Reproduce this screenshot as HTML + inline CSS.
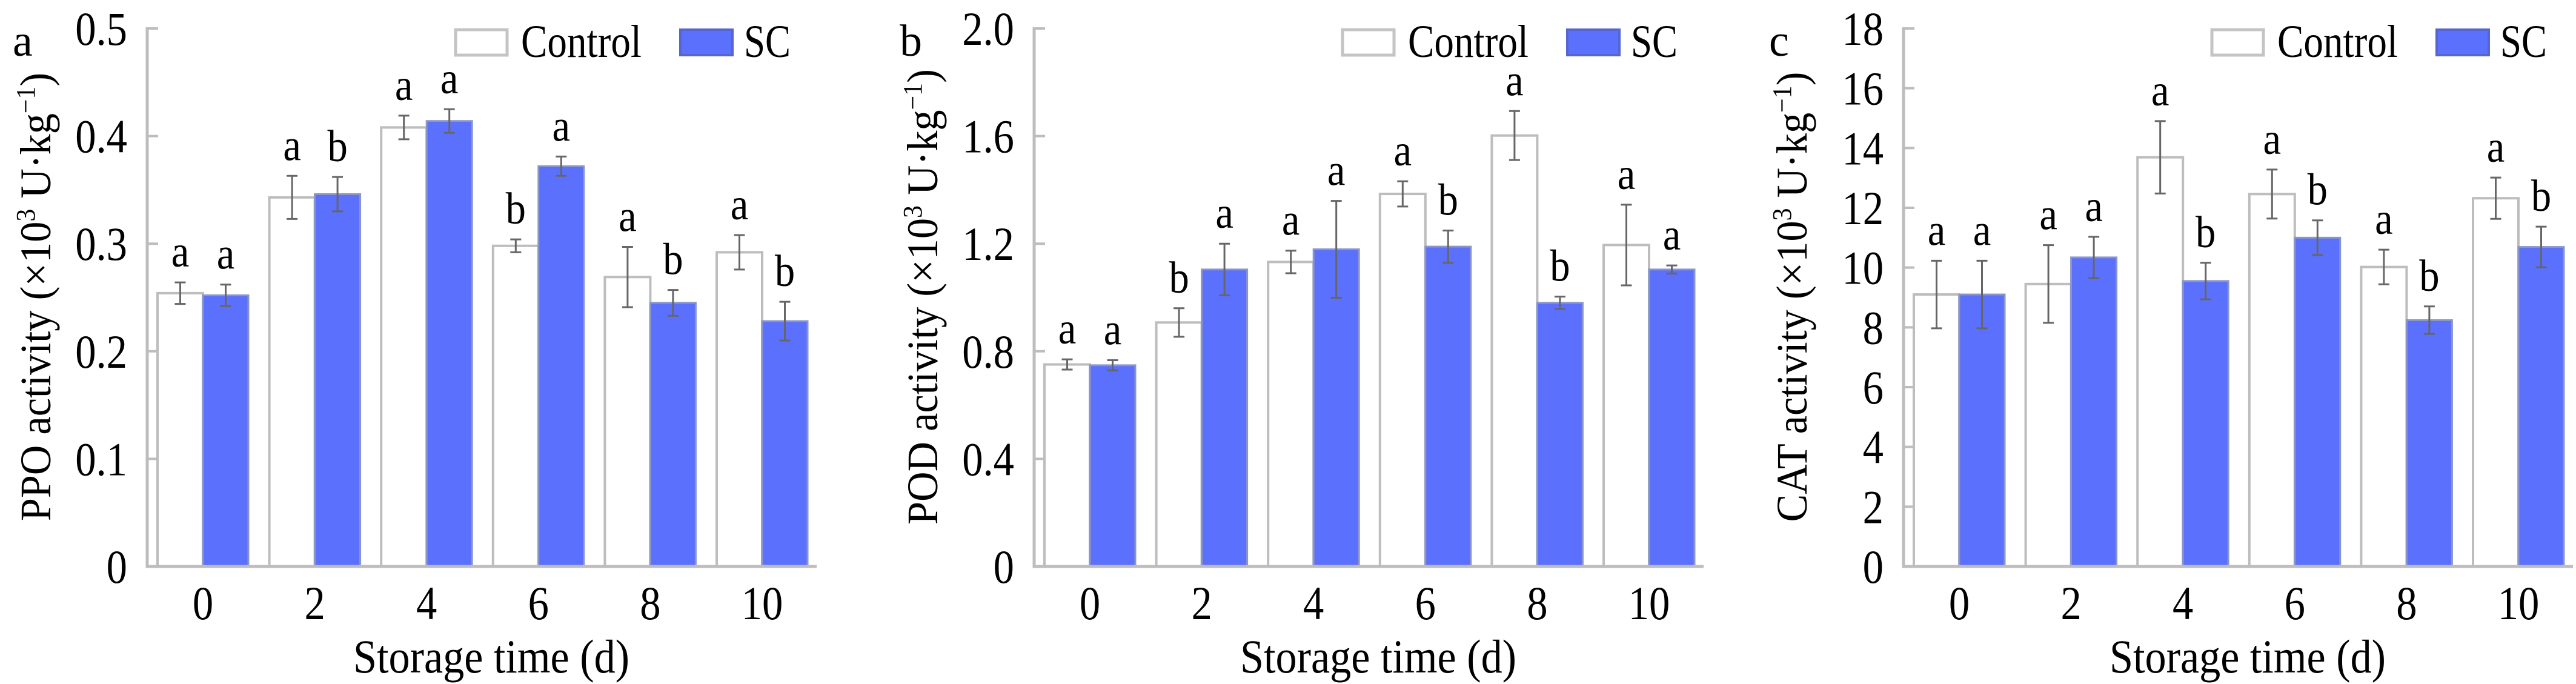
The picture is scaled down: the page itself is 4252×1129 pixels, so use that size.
<!DOCTYPE html>
<html><head><meta charset="utf-8"><style>
html,body{margin:0;padding:0;background:#fff;}
svg{display:block;font-family:"Liberation Serif","DejaVu Serif",serif;}
</style></head><body>
<svg id="fig" xmlns="http://www.w3.org/2000/svg" width="4252" height="1129" viewBox="0 0 4252 1129"></svg>
<script>
const categories = ["0","2","4","6","8","10"];
const ppoControl = [0.254,0.343,0.408,0.298,0.269,0.292];
const ppoControlErr = [0.010,0.020,0.011,0.006,0.028,0.016];
const ppoSC = [0.252,0.346,0.414,0.372,0.245,0.228];
const ppoSCErr = [0.010,0.016,0.011,0.009,0.012,0.018];
const ppoControlLetters = ["a","a","a","b","a","a"];
const ppoSCLetters = ["a","b","a","a","b","b"];
const ppoTicks = ["0","0.1","0.2","0.3","0.4","0.5"];
const ppoTickValues = [0,0.1,0.2,0.3,0.4,0.5];

const podControl = [0.751,0.907,1.132,1.385,1.602,1.195];
const podControlErr = [0.019,0.053,0.042,0.047,0.091,0.150];
const podSC = [0.748,1.104,1.179,1.189,0.980,1.104];
const podSCErr = [0.019,0.096,0.180,0.060,0.023,0.015];
const podControlLetters = ["a","b","a","a","a","a"];
const podSCLetters = ["a","a","a","b","b","a"];
const podTicks = ["0","0.4","0.8","1.2","1.6","2.0"];
const podTickValues = [0,0.4,0.8,1.2,1.6,2.0];

const catControl = [9.10,9.45,13.69,12.46,10.02,12.32];
const catControlErr = [1.13,1.30,1.21,0.82,0.58,0.69];
const catSC = [9.10,10.34,9.55,11.00,8.24,10.69];
const catSCErr = [1.13,0.69,0.61,0.58,0.46,0.68];
const catControlLetters = ["a","a","a","a","a","a"];
const catSCLetters = ["a","a","b","b","b","b"];
const catTicks = ["0","2","4","6","8","10","12","14","16","18"];
const catTickValues = [0,2,4,6,8,10,12,14,16,18];

const NS = "http://www.w3.org/2000/svg";
const svg = document.getElementById("fig");
function mk(tag, attrs, parent){
  const e = document.createElementNS(NS, tag);
  for (const k in attrs) e.setAttribute(k, attrs[k]);
  (parent||svg).appendChild(e);
  return e;
}
function txt(parent, x, y, s, anchor, size, sx){
  const t = mk("text", {transform:`translate(${x},${y}) scale(${sx||0.88},1)`, "text-anchor":anchor, "font-size":size, fill:"#000"}, parent);
  t.textContent = s;
  return t;
}

function panel(id, X0, letter, ytitle, tickLabels, tickVals, ymax, ctrl, ctrlErr, sc, scErr, cl, sl){
  const g = mk("g", {});
  
  
  const base = 935, top = 47;
  const y = v => base - v/ymax*(base-top);
  const cx = i => X0 + 92 + 184.6*i;
  const bw = 75;
  const pl = txt(g, X0-222, 92, letter, "start", 74, 1);
  
  
  for (let i=0;i<categories.length;i++){
    const c = cx(i);
    const r1 = mk("rect", {x:c-bw, y:y(ctrl[i]), width:bw, height:base-y(ctrl[i]), fill:"#fff", stroke:"#bdbdbd", "stroke-width":4}, g);
    
    
    const r2 = mk("rect", {x:c, y:y(sc[i]), width:bw, height:base-y(sc[i]), fill:"#5b70fc", stroke:"#8a96c8", "stroke-width":3}, g);
    
    
    const pairs = [[c-bw/2, ctrl[i], ctrlErr[i], cl[i], 'control'],[c+bw/2, sc[i], scErr[i], sl[i], 'sc']];
    for (const p of pairs){
      const ex = p[0], yt = y(p[1]+p[2]), yb = y(p[1]-p[2]);
      const eb = mk("path", {d:`M${ex},${yt}V${yb}M${ex-9},${yt}H${ex+9}M${ex-9},${yb}H${ex+9}`, stroke:"#666", "stroke-width":3, fill:"none"}, g);
      
      
      const lt = txt(g, ex, yt-26, p[3], "middle", 74, 0.9);
      
      
    }
  }
  const ax = mk("path", {d:`M${X0},${top-2}V${base}H${X0+1105}`, stroke:"#bdbdbd", "stroke-width":5, fill:"none"}, g);
  
  
  for (let k=0;k<tickVals.length;k++){
    const ty = y(tickVals[k]);
    if (k>0){
      const tk = mk("line", {x1:X0, x2:X0+18, y1:ty, y2:ty, stroke:"#bdbdbd", "stroke-width":4}, g);
      
      
    }
    const tl = txt(g, X0-33, ty+27, tickLabels[k], "end", 78, 0.88);
    
    
  }
  for (let i=0;i<categories.length;i++){
    const xl = txt(g, cx(i), 1022, categories[i], "middle", 78, 0.88);
    
    
  }
  const xt = txt(g, X0+568, 1110, "Storage time (d)", "middle", 78, 0.9);
  
  
  const yt = mk("text", {transform:`translate(${X0-160},490) rotate(-90) scale(0.95,1)`, "text-anchor":"middle", "font-size":72, fill:"#000"}, g);
  
  
  yt.innerHTML = ytitle + ' (×10<tspan dy="-26" font-size="44">3</tspan><tspan dy="26"> U·kg</tspan><tspan dy="-26" font-size="44">−1</tspan><tspan dy="26">)</tspan>';
  const lg = mk("g", {}, g);
  
  
  const lb1 = mk("rect", {x:X0+509, y:49, width:85, height:42, fill:"#fff", stroke:"#c4c4c4", "stroke-width":5}, lg);
  
  
  const lt1 = mk("text", {x:X0+617, y:94, "font-size":76, textLength:199, lengthAdjust:"spacingAndGlyphs"}, lg);
  lt1.textContent = "Control";
  
  
  const lb2 = mk("rect", {x:X0+880, y:49, width:86, height:42, fill:"#5b70fc", stroke:"#5566d0", "stroke-width":4}, lg);
  
  
  const lt2 = mk("text", {x:X0+985, y:94, "font-size":76, textLength:77, lengthAdjust:"spacingAndGlyphs"}, lg);
  lt2.textContent = "SC";
  
  
}

panel("ppo", 243, "a", "PPO activity", ppoTicks, ppoTickValues, 0.5, ppoControl, ppoControlErr, ppoSC, ppoSCErr, ppoControlLetters, ppoSCLetters);
panel("pod", 1707, "b", "POD activity", podTicks, podTickValues, 2.0, podControl, podControlErr, podSC, podSCErr, podControlLetters, podSCLetters);
panel("cat", 3142, "c", "CAT activity", catTicks, catTickValues, 18, catControl, catControlErr, catSC, catSCErr, catControlLetters, catSCLetters);
</script>
</body></html>
